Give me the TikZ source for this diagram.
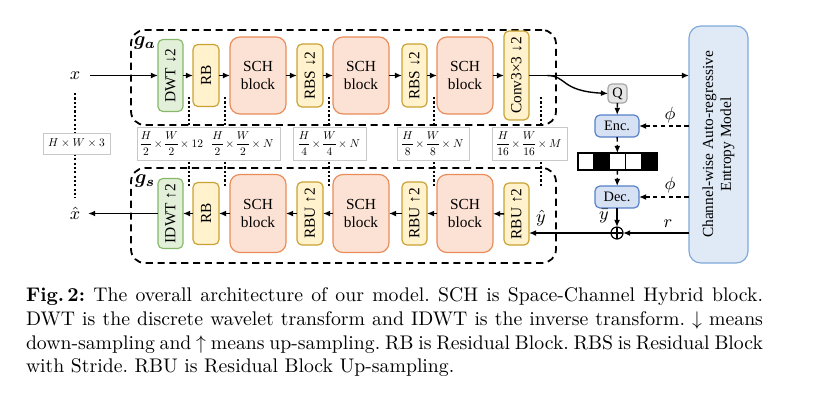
\documentclass[tikz,border=0pt]{standalone}
\usepackage{graphicx}
\usepackage{amsmath,bm}
\usepackage{fontspec}
\newfontfamily\tnr{Liberation Serif}
\usetikzlibrary{arrows.meta,calc}
\definecolor{grnF}{HTML}{E3F0D9}\definecolor{grnD}{HTML}{86B86A}
\definecolor{ylwF}{HTML}{FFF2CC}\definecolor{ylwD}{HTML}{C9A233}
\definecolor{schF}{HTML}{FBE2D4}\definecolor{schD}{HTML}{EA8B58}
\definecolor{gryF}{HTML}{E6E6E6}\definecolor{gryD}{HTML}{A6A6A6}
\definecolor{encF}{HTML}{D7E1F4}\definecolor{encD}{HTML}{5580C8}
\definecolor{entF}{HTML}{DFEAF6}\definecolor{entD}{HTML}{80A8DA}
\definecolor{dimD}{HTML}{C8C8C8}
\def\pxu{0.507pt}
\newcommand\dimlbl[2][0.58]{\scalebox{#1}{\fontsize{10}{12}\selectfont$\nulldelimiterspace=0pt\relax #2$}}
\begin{document}
\begin{tikzpicture}[x=0.507pt,y=-0.507pt,
  every node/.style={inner sep=0pt,outer sep=0pt},
  blk/.style={draw,rounded corners=2.5pt,line width=0.6pt,align=center,
    font=\tnr\fontsize{7.8}{9.1}\selectfont},
  grnbox/.style={blk,fill=grnF,draw=grnD},
  ylwbox/.style={blk,fill=ylwF,draw=ylwD},
  schbox/.style={blk,fill=schF,draw=schD,rounded corners=5pt,
    minimum width=56*\pxu,minimum height=77*\pxu},
  smallbox/.style={blk,font=\tnr\fontsize{7.3}{8.5}\selectfont,
    minimum width=44*\pxu,minimum height=22*\pxu},
  dimbox/.style={draw=dimD,fill=white,line width=0.5pt,minimum height=33*\pxu},
  dashbox/.style={draw,dash pattern=on 3.6pt off 2.4pt,line width=0.9pt,
    rounded corners=7pt},
  arr/.style={-{Latex[length=3.6pt,width=3pt]},line width=0.7pt},
  darr/.style={arr,dash pattern=on 2.4pt off 1.6pt},
  dotl/.style={line width=1.1pt,dash pattern=on 1.1pt off 1.1pt},
  lbl/.style={font=\fontsize{9.5}{11}\selectfont}
]
\useasboundingbox (0,0) rectangle (813,401);

% dashed containers
\node[dashbox,minimum width=425*\pxu,minimum height=95*\pxu] (ga) at (343.5,77.5) {};
\node[dashbox,minimum width=425*\pxu,minimum height=95*\pxu] (gs) at (343.5,215.5) {};
\node[font=\fontsize{10}{12}\selectfont] at (145,43) {$\bm{g_a}$};
\node[font=\fontsize{10}{12}\selectfont] at (145,181) {$\bm{g_s}$};

% dotted size lines
\foreach \xx in {189,225,329,434,541}{
  \draw[dotl] (\xx,97) -- (\xx,188);
}

% input / output
\node[lbl] (xin) at (75,75.5) {$x$};
\node[lbl] (xout) at (75,213.5) {$\hat{x}$};
\draw[dotl,shorten <=7pt,shorten >=5pt] (xin) -- (xout);
\node[dimbox,minimum width=67*\pxu,minimum height=21*\pxu] (d0) at (76.5,143.5) {\dimlbl{H\times W\times 3}};

% dims boxes
\node[dimbox,minimum width=143*\pxu] (d1) at (208.5,143.5) {};
\node at (172,143.5) {\dimlbl{\dfrac{H}{2}\times\dfrac{W}{2}\times 12}};
\node at (243,143.5) {\dimlbl{\dfrac{H}{2}\times\dfrac{W}{2}\times N}};
\node[dimbox,minimum width=73*\pxu] (d2) at (329.5,143.5) {\dimlbl{\dfrac{H}{4}\times\dfrac{W}{4}\times N}};
\node[dimbox,minimum width=72*\pxu] (d3) at (433,143.5) {\dimlbl{\dfrac{H}{8}\times\dfrac{W}{8}\times N}};
\node[dimbox,minimum width=75*\pxu] (d4) at (529.5,143.5) {\dimlbl{\dfrac{H}{16}\times\dfrac{W}{16}\times M}};

% analysis row
\node[grnbox,minimum width=25*\pxu,minimum height=72*\pxu] (dwt) at (170.5,75.5) {\rotatebox{90}{DWT ↓2}};
\node[ylwbox,minimum width=26*\pxu,minimum height=62*\pxu] (rba) at (206,75.5) {\rotatebox{90}{RB}};
\node[schbox] (scha1) at (258,75.5) {SCH\\block};
\node[ylwbox,minimum width=26*\pxu,minimum height=63*\pxu] (rbs1) at (310,75.5) {\rotatebox{90}{RBS ↓2}};
\node[schbox] (scha2) at (361,75.5) {SCH\\block};
\node[ylwbox,minimum width=25*\pxu,minimum height=63*\pxu] (rbs2) at (414.5,75.5) {\rotatebox{90}{RBS ↓2}};
\node[schbox] (scha3) at (465,75.5) {SCH\\block};
\node[ylwbox,minimum width=25*\pxu,minimum height=89*\pxu] (conv) at (516.5,75.5) {\rotatebox{90}{Conv3×3 ↓2}};

% synthesis row
\node[grnbox,minimum width=25*\pxu,minimum height=70*\pxu] (idwt) at (170.5,213.5) {\rotatebox{90}{IDWT ↑2}};
\node[ylwbox,minimum width=26*\pxu,minimum height=62*\pxu] (rbs) at (206,213.5) {\rotatebox{90}{RB}};
\node[schbox,minimum height=78*\pxu] (schs1) at (258,213.5) {SCH\\block};
\node[ylwbox,minimum width=26*\pxu,minimum height=63*\pxu] (rbu1) at (310,213.5) {\rotatebox{90}{RBU ↑2}};
\node[schbox,minimum height=78*\pxu] (schs2) at (361,213.5) {SCH\\block};
\node[ylwbox,minimum width=25*\pxu,minimum height=63*\pxu] (rbu2) at (414.5,213.5) {\rotatebox{90}{RBU ↑2}};
\node[schbox,minimum height=78*\pxu] (schs3) at (465,213.5) {SCH\\block};
\node[ylwbox,minimum width=25*\pxu,minimum height=62*\pxu] (rbu3) at (516.5,214) {\rotatebox{90}{RBU ↑2}};

% entropy side
\node[blk,fill=entF,draw=entD,rounded corners=6pt,minimum width=59*\pxu,minimum height=237*\pxu] (ent) at (718.5,144.5)
  {\rotatebox{90}{\begin{tabular}{@{}c@{}}Channel-wise Auto-regressive\\Entropy Model\end{tabular}}};
\node[blk,fill=gryF,draw=gryD,rounded corners=2pt,minimum width=19*\pxu,minimum height=19*\pxu,
  font=\tnr\fontsize{7.3}{8.5}\selectfont] (q) at (617.5,93.5) {Q};
\node[smallbox,fill=encF,draw=encD] (enc) at (617,126) {Enc.};
\node[smallbox,fill=encF,draw=encD] (dec) at (617,197) {Dec.};
\foreach \i/\c in {1/white,2/black,3/white,4/white,5/black}{
  \node[draw,fill=\c,line width=0.6pt,minimum width=15.8*\pxu,minimum height=17*\pxu]
    (c\i) at ({578+7.9+15.8*(\i-1)},161.5) {};
}
\node[circle,draw,line width=0.6pt,minimum size=12*\pxu] (oplus) at (617,233) {};
\draw[line width=0.6pt] (oplus.north) -- (oplus.south) (oplus.east) -- (oplus.west);

% arrows analysis
\draw[arr,shorten <=5pt] (xin) -- (dwt);
\draw[arr] (dwt) -- (rba);
\draw[arr] (rba) -- (scha1);
\draw[arr] (scha1) -- (rbs1);
\draw[arr] (rbs1) -- (scha2);
\draw[arr] (scha2) -- (rbs2);
\draw[arr] (rbs2) -- (scha3);
\draw[arr] (scha3) -- (conv);
\draw[arr] (conv.east) -- (conv.east -| ent.west);
\coordinate (br) at (547,75.5);
\draw[arr] (br) .. controls (567,75.5) and (560,91) .. (q.west);

% arrows synthesis
\draw[arr] (rbu3) -- (schs3);
\draw[arr] (schs3) -- (rbu2);
\draw[arr] (rbu2) -- (schs2);
\draw[arr] (schs2) -- (rbu1);
\draw[arr] (rbu1) -- (schs1);
\draw[arr] (schs1) -- (rbs);
\draw[arr] (rbs) -- (idwt);
\draw[arr,shorten >=4pt] (idwt) -- (xout);

% coding arrows
\draw[darr] (q) -- (enc);
\draw[darr] (enc) -- (c3);
\draw[darr] (c3) -- (dec);
\draw[arr] (dec) -- (oplus);
\draw[darr] (ent.west |- enc) -- (enc);
\draw[darr] (ent.west |- dec) -- (dec);
\draw[arr] (ent.west |- oplus) -- (oplus);
\draw[arr] (oplus) -- (oplus -| rbu3.east);

\node[lbl] at (670,115) {$\phi$};
\node[lbl] at (670,185) {$\phi$};
\node[lbl] at (668,224) {$r$};
\node[lbl] at (604,216) {$\bar{y}$};
\node[lbl] at (541,218) {$\hat{y}$};

% caption
\node[anchor=north west,text width=737*\pxu,align=justify,font=\fontsize{10}{12}\selectfont] (cap) at (26,288)
{\frenchspacing{\bfseries Fig.\,2:} The overall architecture of our model. SCH is Space-Channel Hybrid block.\linebreak
DWT is the discrete wavelet transform and IDWT is the inverse transform. $\downarrow$ means\linebreak
down-sampling and $\uparrow$ means up-sampling. RB is Residual Block. RBS is Residual Block\linebreak
with Stride. RBU is Residual Block Up-sampling.};
\end{tikzpicture}
\end{document}
